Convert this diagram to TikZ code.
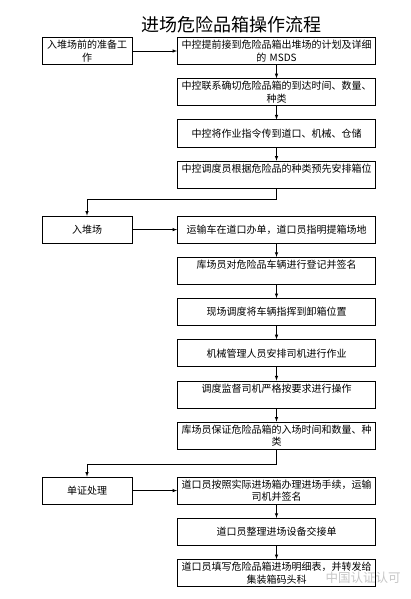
\documentclass[tikz,border=0pt]{standalone}
\usepackage{fontspec}
\setmainfont{Noto Sans CJK SC}
\begin{document}
\begin{tikzpicture}[x=1pt, y=-1pt, node distance=41.2pt, auto]
		% Define styles
		\tikzstyle{mainstep} = [rectangle, draw, line width=0.8pt, text width=191pt, align=center, minimum height=27pt, inner xsep=3.5pt, inner ysep=2pt, font=\fontsize{10pt}{12.5pt}\selectfont]
		\tikzstyle{sidestep} = [rectangle, draw, line width=0.8pt, text width=82pt, align=center, minimum height=27pt, inner xsep=4pt, inner ysep=2pt, font=\fontsize{10pt}{12.5pt}\selectfont]
		\tikzstyle{topline} = [text height=9.5pt, text depth=13.5pt]
		\tikzstyle{flow} = [-latex, line width=0.6pt]
		\useasboundingbox (0,0) rectangle (410,599);
		
		% Title
		\node[font=\fontsize{18pt}{18pt}\selectfont] (title) at (231.5,25) {进场危险品箱操作流程};
		
		% Nodes
		\node[mainstep] (plan) at (276.5,51) {中控提前接到危险品箱出堆场的计划及详细\\的 MSDS};
		\node[mainstep, below of=plan] (confirm) {中控联系确切危险品箱的到达时间、数量、\\种类};
		\node[mainstep, below of=confirm] (relay) {中控将作业指令传到道口、机械、仓储};
		\node[mainstep, topline, below of=relay] (arrange) {中控调度员根据危险品的种类预先安排箱位};
		\node[mainstep, below of=arrange, node distance=55pt] (truck) {运输车在道口办单，道口员指明提箱场地};
		\node[mainstep, topline, below of=truck] (register) {库场员对危险品车辆进行登记并签名};
		\node[mainstep, below of=register] (guide) {现场调度将车辆指挥到卸箱位置};
		\node[mainstep, below of=guide] (assign) {机械管理人员安排司机进行作业};
		\node[mainstep, topline, below of=assign] (supervise) {调度监督司机严格按要求进行操作};
		\node[mainstep, below of=supervise] (guarantee) {库场员保证危险品箱的入场时间和数量、种\\类};
		\node[mainstep, below of=guarantee, node distance=55pt] (gatehandle) {道口员按照实际进场箱办理进场手续，运输\\司机并签名};
		\node[mainstep, below of=gatehandle] (sheet) {道口员整理进场设备交接单};
		\node[mainstep, below of=sheet] (detail) {道口员填写危险品箱进场明细表，并转发给\\集装箱码头科};
		
		\node[sidestep, left of=plan, node distance=189.5pt] (prep) {入堆场前的准备工\\作};
		\node[sidestep, left of=truck, node distance=189.5pt] (enter) {入堆场};
		\node[sidestep, left of=gatehandle, node distance=189.5pt] (docs) {单证处理};
		
		% Watermark
		\node[text=gray!45, font=\fontsize{12.5pt}{12.5pt}\selectfont] (mark) at (363,578) {中国认证认可};
		
		% Arrows
		\draw[flow] (prep) -- (plan);
		\draw[flow] (plan) -- (confirm);
		\draw[flow] (confirm) -- (relay);
		\draw[flow] (relay) -- (arrange);
		\draw[flow] (arrange.south) -- ++(0,11) -| (enter.north);
		\draw[flow] (enter) -- (truck);
		\draw[flow] (truck) -- (register);
		\draw[flow] (register) -- (guide);
		\draw[flow] (guide) -- (assign);
		\draw[flow] (assign) -- (supervise);
		\draw[flow] (supervise) -- (guarantee);
		\draw[flow] (guarantee.south) -- ++(0,15) -| (docs.north);
		\draw[flow] (docs) -- (gatehandle);
		\draw[flow] (gatehandle) -- (sheet);
		\draw[flow] (sheet) -- (detail);
	\end{tikzpicture}
\end{document}
